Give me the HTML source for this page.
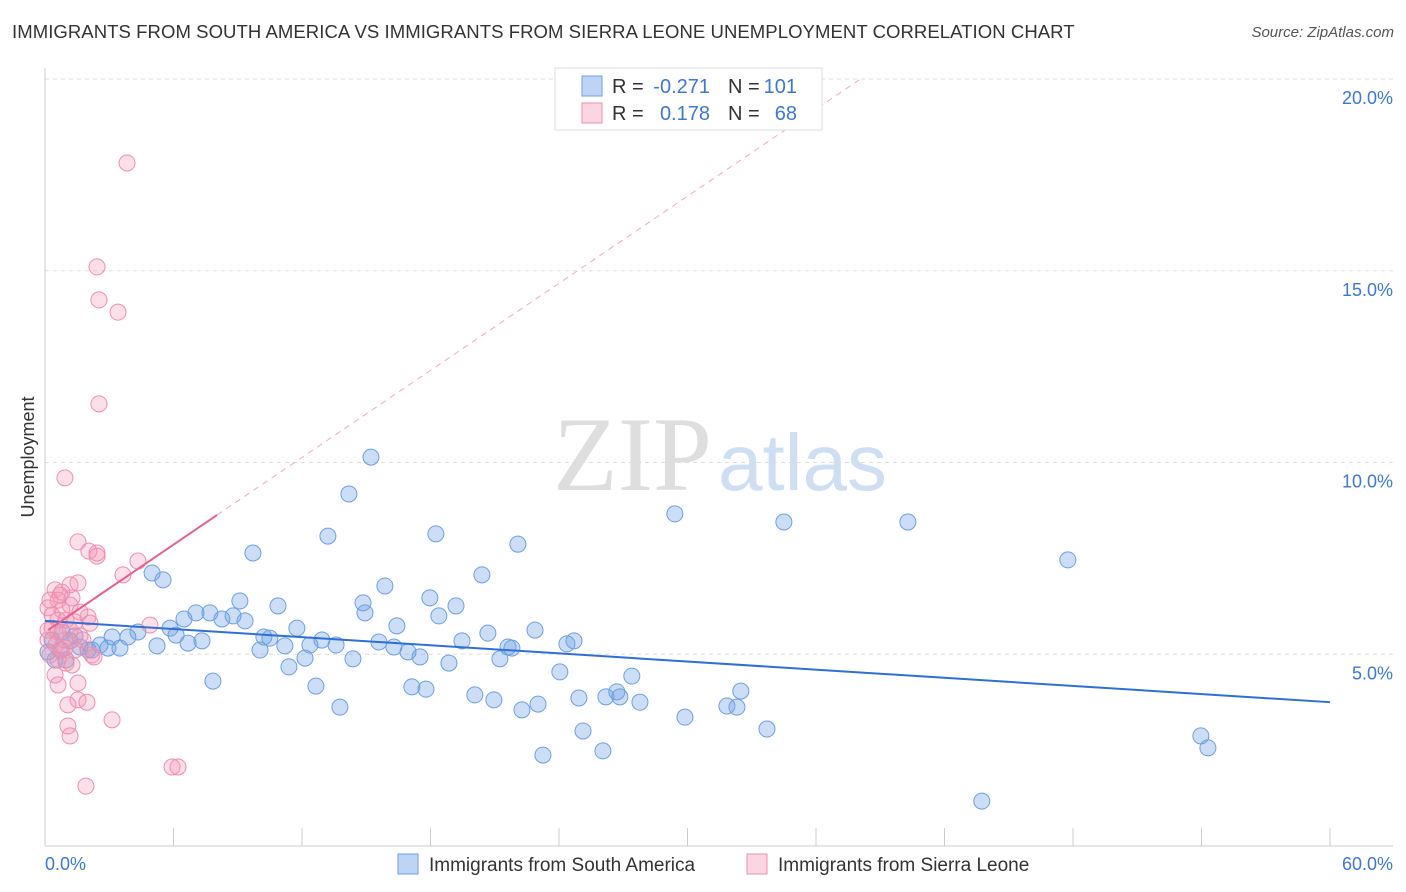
<!DOCTYPE html>
<html><head><meta charset="utf-8">
<style>
body{margin:0;background:#fff;font-family:"Liberation Sans",sans-serif;}
#wrap{position:relative;width:1406px;height:892px;overflow:hidden;}
.title{position:absolute;left:12px;top:22px;font-size:18px;color:#333;letter-spacing:0.05px;transform-origin:left top;transform:scaleX(1.03);white-space:nowrap;}
.source{position:absolute;right:12px;top:24px;font-size:15px;color:#555;font-style:italic;}
</style></head>
<body>
<div id="wrap">
<div class="title">IMMIGRANTS FROM SOUTH AMERICA VS IMMIGRANTS FROM SIERRA LEONE UNEMPLOYMENT CORRELATION CHART</div>
<div class="source">Source: ZipAtlas.com</div>
<svg id="chart" width="1406" height="892" style="position:absolute;left:0;top:0"></svg>
</div>
<script>
const blueX=[15.22,14.19,29.41,34.50,40.29,47.76,13.21,18.25,22.08,9.71,5.00,5.51,20.40,15.87,9.10,10.88,14.85,14.94,17.97,19.19,7.05,7.70,6.49,8.26,8.78,9.34,18.39,16.43,11.76,5.84,6.12,4.34,3.87,3.13,2.57,2.01,1.63,1.17,0.70,0.47,0.98,3.50,5.23,6.68,7.33,10.22,10.50,10.04,11.20,12.93,13.59,12.37,15.59,16.29,16.95,17.51,19.47,20.68,22.88,24.70,24.37,21.62,21.80,21.24,18.86,14.38,12.14,11.39,24.04,27.40,7.84,12.65,17.13,17.79,20.07,20.96,23.02,22.27,24.93,26.19,26.70,26.84,27.78,32.49,31.84,32.31,29.88,33.71,25.12,26.05,23.25,13.77,43.74,53.97,54.30,0.14,0.33,0.79,1.40,2.19,2.94];
const blueY=[10.14,9.18,8.66,8.45,8.45,7.46,8.08,8.14,7.87,7.64,7.12,6.94,7.07,6.78,6.39,6.26,6.34,6.08,6.47,6.26,6.08,6.08,5.92,5.92,6.00,5.87,6.00,5.74,5.68,5.68,5.50,5.58,5.45,5.45,5.24,5.11,5.19,5.35,5.11,4.85,4.85,5.16,5.22,5.29,5.35,5.45,5.42,5.11,5.22,5.37,5.24,5.24,5.32,5.19,5.06,4.93,5.35,5.55,5.63,5.35,5.27,5.19,5.16,4.88,4.77,4.88,4.90,4.67,4.54,4.43,4.30,4.17,4.15,4.09,3.94,3.81,3.70,3.55,3.86,3.89,4.02,3.89,3.75,4.04,3.65,3.62,3.36,3.05,3.00,2.48,2.37,3.62,1.17,2.87,2.56,5.06,5.37,5.58,5.48,5.11,5.16];
const pinkX=[3.83,2.43,2.52,3.41,2.52,0.93,1.54,2.43,2.05,2.43,4.34,3.64,0.47,0.79,1.17,1.54,0.61,1.17,0.79,0.14,0.33,0.61,0.98,1.40,2.01,0.33,0.61,1.17,1.63,0.14,0.51,0.93,1.40,1.77,0.23,0.61,0.98,1.26,0.47,0.61,1.54,1.54,1.96,1.07,1.07,1.17,3.13,5.93,6.21,1.91,4.90,2.19,0.14,0.79,2.29,0.70,1.26,0.23,0.93,1.63,2.10];
const pinkY=[17.81,15.10,14.24,13.92,11.53,9.60,7.93,7.64,7.69,7.56,7.43,7.07,6.68,6.62,6.81,6.86,6.41,6.28,6.15,6.21,6.02,5.89,5.89,5.84,5.97,5.68,5.58,5.63,5.48,5.37,5.24,5.16,5.11,5.37,4.98,4.85,4.77,4.72,4.46,4.20,4.25,3.81,3.75,3.68,3.13,2.87,3.29,2.06,2.06,1.56,5.76,4.98,5.63,5.11,4.93,6.54,6.47,6.41,5.37,6.10,5.81];
const blueTrend=[[0,5.87],[60,3.75]];
const pinkTrend=[[0.14,5.63],[8.03,8.63]];
const pinkDash=[[8.03,8.63],[38.05,19.99]];
const yTicks=[5,10,15,20];
const yTickLabels=["5.0%","10.0%","15.0%","20.0%"];
const xTicks=[0,6,12,18,24,30,36,42,48,54,60];

const X0=45,X1=1330,Y0=846,PY=38.35;
const sx=v=>X0+(X1-X0)*v/60;
const sy=v=>Y0-v*PY;
const svg=document.getElementById('chart');
const NS='http://www.w3.org/2000/svg';
function mk(tag,attrs,parent){const e=document.createElementNS(NS,tag);for(const k in attrs)e.setAttribute(k,attrs[k]);(parent||svg).appendChild(e);return e;}

let wm=mk('text',{x:553,y:490,'font-size':106,'font-family':'Liberation Serif,serif',fill:'#dedede'});
wm.textContent='ZIP';


let wm2=mk('text',{x:718,y:490,'font-size':80,'font-family':'Liberation Sans,sans-serif',fill:'#cfdff3'});
wm2.textContent='atlas';



yTicks.forEach((t,i)=>{
 const g=mk('line',{x1:X0,x2:1393,y1:sy(t),y2:sy(t),stroke:'#ddd','stroke-dasharray':'4,4'});
 
 
 const l=mk('text',{x:1393,y:sy(t)+25,'text-anchor':'end','font-size':18,fill:'#3b78d8'});
 l.textContent=yTickLabels[i];
 
 
});
let ax=mk('line',{x1:X0,x2:X0,y1:68,y2:Y0,stroke:'#ccc'});


let bx=mk('line',{x1:X0,x2:1393,y1:Y0,y2:Y0,stroke:'#ccc'});


xTicks.forEach(t=>{
 const tk=mk('line',{x1:sx(t),x2:sx(t),y1:828,y2:Y0,stroke:'#ccc'});
 
 
});
let xl0=mk('text',{x:45,y:870,'font-size':18,fill:'#3b78d8'});xl0.textContent='0.0%';


let xl1=mk('text',{x:1393,y:870,'font-size':18,fill:'#3b78d8','text-anchor':'end'});xl1.textContent='60.0%';


let yt=mk('text',{x:34,y:457,'font-size':18,fill:'#333','text-anchor':'middle',transform:'rotate(-90 34 457)'});yt.textContent='Unemployment';



blueX.forEach((v,i)=>{
 const c=mk('circle',{cx:sx(v),cy:sy(blueY[i]),r:8,fill:'rgba(110,160,230,0.35)',stroke:'#6d9fe3','stroke-width':1});
 
 
});
pinkX.forEach((v,i)=>{
 const c=mk('circle',{cx:sx(v),cy:sy(pinkY[i]),r:8,fill:'rgba(245,150,180,0.3)',stroke:'#ec8fae','stroke-width':1});
 
 
});
let bt=mk('line',{x1:sx(blueTrend[0][0]),y1:sy(blueTrend[0][1]),x2:sx(blueTrend[1][0]),y2:sy(blueTrend[1][1]),stroke:'#2f6fd8','stroke-width':2});


let pt=mk('line',{x1:sx(pinkTrend[0][0]),y1:sy(pinkTrend[0][1]),x2:sx(pinkTrend[1][0]),y2:sy(pinkTrend[1][1]),stroke:'#e8608c','stroke-width':2});


let pd=mk('line',{x1:sx(pinkDash[0][0]),y1:sy(pinkDash[0][1]),x2:sx(pinkDash[1][0]),y2:sy(pinkDash[1][1]),stroke:'#eeaac0','stroke-width':1,'stroke-dasharray':'6,5'});



const lg=mk('g',{});


mk('rect',{x:555,y:68,width:267,height:62,fill:'#fff',stroke:'#ddd'},lg);
mk('rect',{x:582,y:76,width:20,height:20,fill:'rgba(110,160,230,0.45)',stroke:'#6d9fe3'},lg);
mk('rect',{x:582,y:103,width:20,height:20,fill:'rgba(245,150,180,0.4)',stroke:'#ec8fae'},lg);
function lt(x,y,s,c,a){const t=mk('text',{x:x,y:y,'font-size':20,fill:c,'text-anchor':a||'start'},lg);t.textContent=s;return t;}
lt(612,93,'R =','#333');lt(710,93,'-0.271','#3b78d8','end');lt(728,93,'N =','#333');lt(797,93,'101','#3b78d8','end');
lt(612,120,'R =','#333');lt(710,120,'0.178','#3b78d8','end');lt(728,120,'N =','#333');lt(797,120,'68','#3b78d8','end');

const bl=mk('g',{});


mk('rect',{x:398,y:854,width:20,height:20,fill:'rgba(110,160,230,0.45)',stroke:'#6d9fe3'},bl);
let b1=mk('text',{x:429,y:871,'font-size':19,fill:'#333'},bl);b1.textContent='Immigrants from South America';
mk('rect',{x:747,y:854,width:20,height:20,fill:'rgba(245,150,180,0.4)',stroke:'#ec8fae'},bl);
let b2=mk('text',{x:778,y:871,'font-size':19,fill:'#333'},bl);b2.textContent='Immigrants from Sierra Leone';
</script>
</body></html>
